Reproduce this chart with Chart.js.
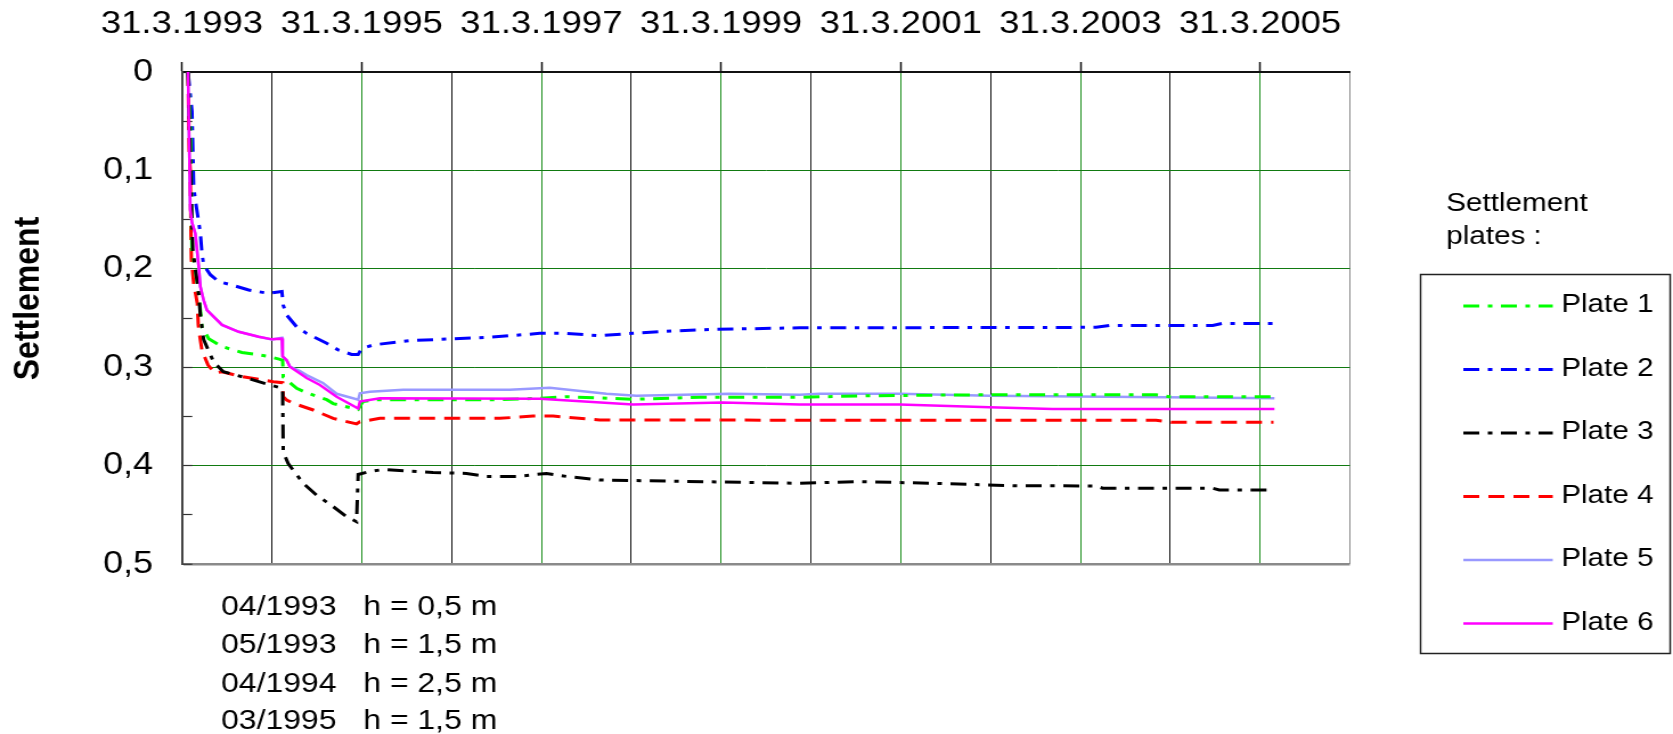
<!DOCTYPE html>
<html>
<head>
<meta charset="utf-8">
<script src="https://cdn.jsdelivr.net/npm/chart.js@4.4.1/dist/chart.umd.min.js"></script>
<style>
  html, body { margin: 0; padding: 0; background: #fff; overflow: hidden; }
  #wrap { position: absolute; left: 0; top: 0; width: 1468px; height: 734px;
          transform: scaleX(1.139646); transform-origin: 0 0; }
  #c { display: block; width: 1468px; height: 734px; }
</style>
</head>
<body>
<div id="wrap"><canvas id="c" width="1468" height="734"></canvas></div>
<script>
// Settlement of six plates under a staged embankment, 1993-2005.
// x: decimal year (31 March = year + 0.25), y: settlement in m.

const plateNames = ['Plate 1', 'Plate 2', 'Plate 3', 'Plate 4', 'Plate 5', 'Plate 6'];

const plate1 = [
  [1993.317, 0], [1993.345, 0.06], [1993.361, 0.181], [1993.398, 0.201], [1993.436, 0.225],
  [1993.472, 0.259], [1993.547, 0.271], [1993.695, 0.279], [1993.917, 0.285], [1994.214, 0.289],
  [1994.34, 0.292], [1994.37, 0.293], [1994.377, 0.31], [1994.415, 0.313], [1994.526, 0.3215],
  [1994.637, 0.326], [1994.86, 0.333], [1994.933, 0.337], [1995.211, 0.343], [1995.249, 0.337],
  [1995.267, 0.335], [1995.416, 0.333], [1996.787, 0.333], [1997.232, 0.3316], [1997.529, 0.330],
  [1998.27, 0.3326], [1999.012, 0.3306], [2000.124, 0.3306], [2000.866, 0.329], [2002.201, 0.328],
  [2004.092, 0.328], [2004.24, 0.33], [2005.41, 0.33]
];

const plate2 = [
  [1993.317, 0], [1993.361, 0.04], [1993.38, 0.117], [1993.398, 0.13], [1993.428, 0.148],
  [1993.454, 0.164], [1993.472, 0.184], [1993.491, 0.196], [1993.565, 0.206], [1993.658, 0.213],
  [1993.806, 0.2165], [1993.992, 0.2215], [1994.214, 0.225], [1994.362, 0.223], [1994.377, 0.237],
  [1994.415, 0.247], [1994.526, 0.259], [1994.637, 0.2656], [1994.86, 0.2757], [1994.989, 0.2825],
  [1995.138, 0.287], [1995.211, 0.287], [1995.249, 0.281], [1995.378, 0.2774], [1995.675, 0.274],
  [1995.786, 0.273], [1996.231, 0.2713], [1996.676, 0.2696], [1997.232, 0.2656], [1997.529, 0.2656],
  [1997.9, 0.268], [1998.27, 0.2656], [1998.753, 0.263], [1999.198, 0.2615], [2000.124, 0.26],
  [2003.425, 0.2595], [2003.573, 0.2575], [2004.722, 0.2575], [2004.833, 0.2555], [2005.41, 0.2555]
];

const plate3 = [
  [1993.317, 0], [1993.36, 0.15], [1993.37, 0.18], [1993.398, 0.2], [1993.428, 0.218],
  [1993.454, 0.247], [1993.491, 0.272], [1993.584, 0.291], [1993.598, 0.2944], [1993.709, 0.3046],
  [1993.97, 0.311], [1994.229, 0.318], [1994.37, 0.3215], [1994.377, 0.386], [1994.432, 0.398],
  [1994.599, 0.418], [1994.748, 0.43], [1994.933, 0.4417], [1995.082, 0.452], [1995.193, 0.457],
  [1995.211, 0.409], [1995.341, 0.406], [1995.489, 0.404], [1996.045, 0.407], [1996.417, 0.408],
  [1996.639, 0.411], [1996.973, 0.411], [1997.307, 0.408], [1997.529, 0.411], [1997.9, 0.4146],
  [2000.124, 0.418], [2000.792, 0.4163], [2001.607, 0.418], [2002.497, 0.4204], [2003.425, 0.4207],
  [2003.498, 0.423], [2004.722, 0.423], [2004.796, 0.4248], [2005.41, 0.4248]
];

const plate4 = [
  [1993.317, 0], [1993.33, 0.08], [1993.342, 0.1], [1993.35, 0.167], [1993.354, 0.19],
  [1993.38, 0.215], [1993.42, 0.235], [1993.431, 0.257], [1993.45, 0.27], [1993.472, 0.283],
  [1993.54, 0.2978], [1993.617, 0.306], [1993.695, 0.3046], [1993.92, 0.3097], [1994.266, 0.3147],
  [1994.37, 0.3157], [1994.377, 0.33], [1994.415, 0.3333], [1994.488, 0.3367], [1994.711, 0.3435],
  [1994.933, 0.352], [1995.193, 0.3577], [1995.23, 0.3554], [1995.452, 0.352], [1996.787, 0.352],
  [1997.158, 0.3496], [1997.38, 0.3496], [1997.9, 0.3537], [2004.092, 0.354], [2004.259, 0.356],
  [2005.40, 0.356]
];

const plate5 = [
  [1993.317, 0], [1993.342, 0.14], [1993.361, 0.153], [1993.398, 0.164], [1993.436, 0.198],
  [1993.454, 0.218], [1993.491, 0.232], [1993.528, 0.242], [1993.695, 0.257], [1993.881, 0.264],
  [1994.103, 0.269], [1994.251, 0.2717], [1994.362, 0.270], [1994.37, 0.289], [1994.415, 0.293],
  [1994.451, 0.2995], [1994.563, 0.304], [1994.637, 0.308], [1994.818, 0.316], [1994.971, 0.327],
  [1995.211, 0.333], [1995.23, 0.3266], [1995.341, 0.325], [1995.712, 0.323], [1996.898, 0.323],
  [1997.343, 0.321], [1997.974, 0.327], [1998.308, 0.329], [1999.346, 0.327], [2000.124, 0.328],
  [2000.347, 0.327], [2001.237, 0.327], [2002.238, 0.329], [2004.203, 0.3306], [2005.41, 0.3316]
];

const plate6 = [
  [1993.317, 0], [1993.342, 0.14], [1993.361, 0.153], [1993.398, 0.164], [1993.436, 0.198],
  [1993.454, 0.218], [1993.491, 0.232], [1993.528, 0.242], [1993.695, 0.257], [1993.881, 0.264],
  [1994.103, 0.269], [1994.251, 0.2717], [1994.362, 0.271], [1994.37, 0.289], [1994.415, 0.293],
  [1994.451, 0.2995], [1994.637, 0.311], [1994.785, 0.318], [1994.971, 0.33], [1995.211, 0.342],
  [1995.23, 0.335], [1995.452, 0.3316], [1997.232, 0.332], [1998.27, 0.338], [1999.271, 0.336],
  [2000.124, 0.338], [2001.237, 0.338], [2002.238, 0.3408], [2002.939, 0.3425], [2005.41, 0.3425]
];

// Yearly gridlines on 31 March; only every second year is labelled.
const xTickYears = [1993, 1994, 1995, 1996, 1997, 1998, 1999, 2000, 2001, 2002, 2003, 2004, 2005, 2006];
const xTickLabels = ['31.3.1993', '', '31.3.1995', '', '31.3.1997', '', '31.3.1999', '',
                     '31.3.2001', '', '31.3.2003', '', '31.3.2005', ''];
const yTickLabels = ['0', '', '0,1', '', '0,2', '', '0,3', '', '0,4', '', '0,5'];

// Fill stages printed under the plot.
const fillStages = [
  ['04/1993', 'h = 0,5 m'],
  ['05/1993', 'h = 1,5 m'],
  ['04/1994', 'h = 2,5 m'],
  ['03/1995', 'h = 1,5 m']
];

const FONT = '"Liberation Sans", Arial, Helvetica, sans-serif';
const DASH_DOT = [14, 7.5, 4, 7.5];
const DASH = [14, 8];

const series = [plate1, plate2, plate3, plate4, plate5, plate6];
const styles = [
  { color: '#00ff00', dash: DASH_DOT, width: 3 },
  { color: '#0000ff', dash: DASH_DOT, width: 3 },
  { color: '#000000', dash: DASH_DOT, width: 3 },
  { color: '#ff0000', dash: DASH, width: 3 },
  { color: '#9999ff', dash: [], width: 2.5 },
  { color: '#ff00ff', dash: [], width: 2.5 }
];

const datasets = series.map((pts, i) => ({
  label: plateNames[i],
  data: pts.map(p => ({ x: p[0], y: p[1] })),
  borderColor: styles[i].color,
  backgroundColor: styles[i].color,
  borderDash: styles[i].dash,
  borderWidth: styles[i].width,
  pointRadius: 0,
  tension: 0,
  fill: false,
  order: [3, 4, 2, 5, 6, 1][i]
}));

// Legend box, axis title and fill-stage notes.
const annotations = {
  id: 'annotations',
  afterDraw(chart) {
    const ctx = chart.ctx;
    ctx.save();
    ctx.fillStyle = '#000';

    // rotated y-axis title
    ctx.save();
    ctx.translate(25.5, 298.5);
    ctx.rotate(-Math.PI / 2);
    ctx.font = 'bold 32px ' + FONT;
    ctx.textAlign = 'center';
    ctx.textBaseline = 'middle';
    ctx.fillText('Settlement', 0, 0);
    ctx.restore();

    // legend
    ctx.font = '26px ' + FONT;
    ctx.textAlign = 'left';
    ctx.textBaseline = 'alphabetic';
    ctx.fillText('Settlement', 1269, 211);
    ctx.fillText('plates :', 1269, 244);

    ctx.strokeStyle = '#222';
    ctx.lineWidth = 1.5;
    ctx.strokeRect(1246.5, 274.5, 219, 379);

    chart.data.datasets.forEach((ds, i) => {
      const y = 306 + i * 63.5;
      ctx.strokeStyle = ds.borderColor;
      ctx.lineWidth = ds.borderWidth;
      ctx.setLineDash(ds.borderDash || []);
      ctx.beginPath();
      ctx.moveTo(1284, y);
      ctx.lineTo(1362.5, y);
      ctx.stroke();
      ctx.setLineDash([]);
      ctx.textBaseline = 'middle';
      ctx.fillText(ds.label, 1370, y - 1);
    });

    // fill stages
    ctx.font = '28px ' + FONT;
    ctx.textBaseline = 'alphabetic';
    const baselines = [615, 653.3, 691.7, 729];
    fillStages.forEach((row, i) => {
      ctx.fillText(row[0], 194, baselines[i]);
      ctx.fillText(row[1], 318.8, baselines[i]);
    });
    ctx.restore();
  }
};

Chart.defaults.font.family = FONT;
Chart.defaults.color = '#000';

new Chart(document.getElementById('c'), {
  type: 'line',
  data: { datasets },
  options: {
    responsive: false,
    animation: false,
    devicePixelRatio: 1,
    layout: { padding: { left: 0, top: 0, right: 283.5, bottom: 170 } },
    plugins: { legend: { display: false }, tooltip: { enabled: false } },
    scales: {
      x: {
        type: 'linear',
        position: 'top',
        min: xTickYears[0] + 0.25,
        max: xTickYears[xTickYears.length - 1] + 0.25,
        afterBuildTicks: s => { s.ticks = xTickYears.map(y => ({ value: y + 0.25 })); },
        afterFit: s => { s.height = 72; },
        ticks: {
          autoSkip: false,
          maxRotation: 0,
          padding: 18.8,
          font: { size: 32 },
          color: '#000',
          callback: (v, i) => xTickLabels[i]
        },
        grid: {
          color: c => {
            const i = c.index;
            if (i === xTickYears.length - 1) return '#8a8a8a';
            if (i === 0) return '#333';
            return i % 2 === 0 ? '#1f8f1f' : '#111';
          },
          lineWidth: 1,
          tickLength: 10,
          tickWidth: 1.5,
          tickColor: c => (c.index % 2 === 0 && c.index < xTickYears.length - 1) ? '#111' : 'rgba(0,0,0,0)'
        },
        border: { color: '#111', width: 2 }
      },
      y: {
        type: 'linear',
        reverse: true,
        min: 0,
        max: 0.5,
        afterBuildTicks: s => { s.ticks = yTickLabels.map((t, i) => ({ value: i * 0.05 })); },
        afterFit: s => { s.width = 159.7; },
        ticks: {
          autoSkip: false,
          padding: 34.5,
          font: { size: 31.5 },
          color: '#000',
          callback: (v, i) => yTickLabels[i]
        },
        grid: {
          color: c => {
            const i = c.index;
            if (i === 0) return 'rgba(0,0,0,0)';
            if (i === yTickLabels.length - 1) return '#8a8a8a';
            return i % 2 === 0 ? '#117a11' : 'rgba(0,0,0,0)';
          },
          lineWidth: c => (c.index === yTickLabels.length - 1 ? 2.5 : 1),
          tickLength: -9,
          tickWidth: 1.2,
          tickColor: '#333'
        },
        border: { color: '#444', width: 2 }
      }
    }
  },
  plugins: [annotations]
});
</script>
</body>
</html>
